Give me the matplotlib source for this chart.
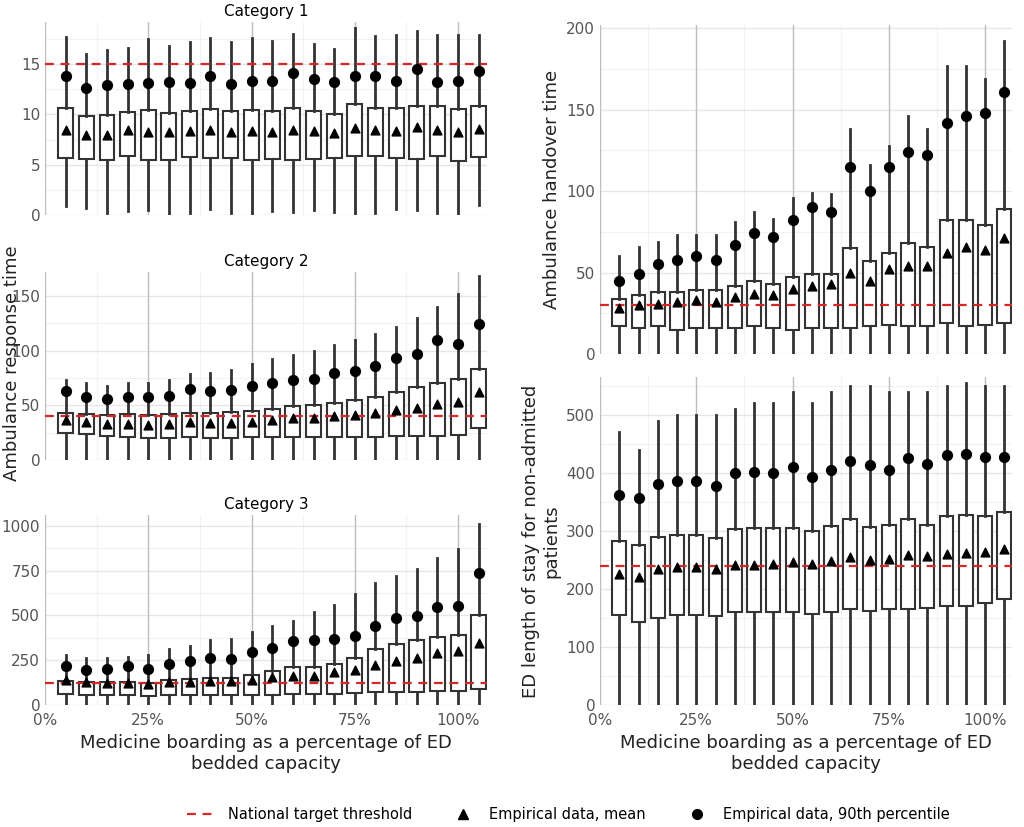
import matplotlib.pyplot as plt
from matplotlib.lines import Line2D

x_pos = [5 * (i + 1) for i in range(21)]

# Category 1
c1_low = [0.9, 0.7, 0.2, 0.4, 0.5, 0.1, 0.2, 0.6, 0.2, 0.1, 0.4, 0.3, 0.5, 0.3, 0.1, 0.2, 0.6, 0.5, 0.2, 0.1, 1.0]
c1_q1 = [5.7, 5.6, 5.5, 5.9, 5.5, 5.5, 5.8, 5.7, 5.7, 5.5, 5.6, 5.5, 5.6, 5.7, 5.9, 5.9, 5.7, 5.6, 5.9, 5.4, 5.8]
c1_q3 = [10.6, 9.8, 9.9, 10.2, 10.4, 10.1, 10.3, 10.5, 10.3, 10.4, 10.3, 10.6, 10.3, 10.0, 11.0, 10.6, 10.6, 10.8, 10.8, 10.5, 10.8]
c1_high = [17.7, 16.0, 16.4, 16.6, 17.5, 16.8, 17.2, 17.6, 17.2, 17.6, 17.3, 18.0, 17.0, 16.5, 18.6, 17.8, 17.9, 18.3, 17.9, 17.9, 17.9]
c1_mean = [8.5, 8.0, 8.0, 8.5, 8.3, 8.3, 8.4, 8.5, 8.3, 8.4, 8.3, 8.5, 8.4, 8.2, 8.7, 8.5, 8.4, 8.8, 8.5, 8.3, 8.6]
c1_p90 = [13.8, 12.6, 12.9, 13.0, 13.1, 13.2, 13.1, 13.8, 13.0, 13.3, 13.3, 14.1, 13.5, 13.2, 13.8, 13.8, 13.3, 14.5, 13.2, 13.3, 14.3]

# Category 2
c2_low = [0] * 21
c2_q1 = [25, 24, 22, 21, 20, 20, 21, 20, 20, 21, 21, 21, 21, 21, 21, 21, 22, 22, 22, 23, 29]
c2_q3 = [43, 42, 41, 42, 41, 42, 43, 43, 44, 45, 47, 49, 50, 52, 55, 58, 62, 67, 70, 74, 83]
c2_high = [73, 70, 68, 70, 70, 73, 79, 80, 82, 88, 92, 96, 100, 105, 110, 115, 122, 130, 140, 152, 168]
c2_mean = [37, 35, 33, 33, 32, 33, 35, 34, 34, 35, 37, 38, 38, 40, 41, 43, 46, 48, 51, 53, 62]
c2_p90 = [63, 58, 56, 58, 58, 59, 65, 63, 64, 68, 70, 73, 74, 80, 81, 86, 93, 97, 110, 106, 124]

# Category 3
c3_low = [0] * 21
c3_q1 = [60, 58, 55, 55, 50, 55, 55, 55, 55, 55, 58, 60, 60, 62, 65, 70, 72, 75, 78, 80, 90]
c3_q3 = [135, 130, 130, 130, 125, 140, 145, 150, 150, 165, 190, 210, 210, 230, 260, 310, 340, 360, 380, 390, 500]
c3_high = [280, 260, 265, 270, 280, 310, 330, 360, 370, 410, 440, 470, 520, 560, 620, 680, 720, 760, 820, 870, 1010]
c3_mean = [140, 130, 125, 125, 115, 130, 130, 135, 135, 140, 155, 160, 160, 185, 195, 225, 245, 260, 290, 300, 345]
c3_p90 = [220, 195, 200, 215, 200, 230, 245, 265, 255, 295, 320, 355, 360, 370, 385, 440, 485, 495, 545, 555, 735]

# Handover
ho_low = [0] * 21
ho_q1 = [17, 16, 17, 15, 16, 16, 16, 17, 16, 15, 16, 16, 16, 17, 18, 17, 17, 19, 17, 18, 19]
ho_q3 = [34, 36, 38, 38, 39, 39, 42, 45, 43, 47, 49, 49, 65, 57, 62, 68, 66, 82, 82, 79, 89]
ho_high = [60, 66, 69, 73, 73, 73, 81, 87, 83, 96, 99, 98, 138, 116, 128, 146, 138, 177, 177, 169, 192]
ho_mean = [28, 30, 31, 32, 33, 32, 35, 37, 36, 40, 42, 43, 50, 45, 52, 54, 54, 62, 66, 64, 71]
ho_p90 = [45, 49, 55, 58, 60, 58, 67, 74, 72, 82, 90, 87, 115, 100, 115, 124, 122, 142, 146, 148, 161]

# ED length of stay
ed_low = [0] * 21
ed_q1 = [155, 143, 150, 155, 155, 153, 160, 160, 160, 160, 157, 160, 165, 162, 165, 165, 167, 170, 170, 175, 182]
ed_q3 = [282, 275, 290, 293, 292, 288, 303, 305, 305, 305, 300, 308, 320, 307, 310, 320, 310, 325, 327, 325, 333]
ed_high = [470, 440, 490, 500, 500, 500, 510, 520, 520, 540, 520, 540, 550, 550, 540, 540, 540, 550, 555, 550, 550]
ed_mean = [225, 220, 235, 238, 237, 235, 242, 242, 243, 246, 243, 248, 255, 250, 252, 258, 257, 260, 262, 263, 268]
ed_p90 = [362, 357, 381, 386, 386, 378, 400, 402, 400, 410, 393, 405, 420, 413, 404, 425, 415, 430, 433, 428, 427]

W, H = 1024, 827
fig = plt.figure(figsize=(W / 100, H / 100), dpi=100)


def ax_px(l, t, r, b):
    return fig.add_axes([l / W, 1 - b / H, (r - l) / W, (b - t) / H])


def panel(ax, low, q1, q3, high, mean, p90, thr, ylim, yticks, minor, title=None, ylabel=None, xlab=False):
    for y in minor:
        ax.axhline(y, color='#f2f2f2', lw=0.8, zorder=0)
    for x in [12.5, 37.5, 62.5, 87.5]:
        ax.axvline(x, color='#f2f2f2', lw=0.8, zorder=0)
    for y in yticks:
        ax.axhline(y, color='#e6e6e6', lw=1.0, zorder=0)
    for x in [0, 25, 50, 75, 100]:
        ax.axvline(x, color='#bdbdbd', lw=1.0, zorder=0)
    stats = [dict(whislo=low[i], q1=q1[i], med=q1[i], q3=q3[i], whishi=high[i])
             for i in range(len(x_pos))]
    ax.bxp(stats, positions=x_pos, widths=3.6, showfliers=False, showcaps=False,
           patch_artist=True,
           boxprops=dict(facecolor='white', edgecolor='#333333', lw=1.5),
           whiskerprops=dict(color='#333333', lw=2),
           medianprops=dict(lw=0), manage_ticks=False)
    ax.axhline(thr, color='#d62728', ls=(0, (4, 3)), lw=1.6, zorder=3)
    ax.scatter(x_pos, mean, marker='^', s=40, color='black', zorder=4)
    ax.scatter(x_pos, p90, marker='o', s=50, color='black', zorder=4)
    ax.set_xlim(0, 107)
    ax.set_ylim(*ylim)
    ax.set_yticks(yticks)
    ax.set_xticks([0, 25, 50, 75, 100])
    if xlab:
        ax.set_xticklabels(['0%', '25%', '50%', '75%', '100%'])
        ax.set_xlabel('Medicine boarding as a percentage of ED\nbedded capacity', fontsize=13, color='#222222')
    else:
        ax.set_xticklabels([])
    ax.tick_params(length=0, labelsize=11, labelcolor='#555555')
    ax.tick_params(axis='x', pad=6)
    for s in ax.spines.values():
        s.set_visible(False)
    if title:
        ax.set_title(title, fontsize=11, pad=4)
    if ylabel:
        ax.set_ylabel(ylabel, fontsize=13, color='#222222')


a1 = ax_px(45, 22, 487, 215)
panel(a1, c1_low, c1_q1, c1_q3, c1_high, c1_mean, c1_p90, 15, (0, 19.2), [0, 5, 10, 15],
      [2.5, 7.5, 12.5, 17.5], title='Category 1')
a2 = ax_px(45, 272, 487, 460)
panel(a2, c2_low, c2_q1, c2_q3, c2_high, c2_mean, c2_p90, 40, (0, 172), [0, 50, 100, 150],
      [25, 75, 125], title='Category 2')
a3 = ax_px(45, 515, 487, 705)
panel(a3, c3_low, c3_q1, c3_q3, c3_high, c3_mean, c3_p90, 120, (0, 1060), [0, 250, 500, 750, 1000],
      [125, 375, 625, 875], title='Category 3', xlab=True)
fig.text(12 / W, 1 - 363 / H, 'Ambulance response time', rotation=90, va='center', ha='center',
         fontsize=13, color='#222222')
a4 = ax_px(600, 25, 1012, 354)
panel(a4, ho_low, ho_q1, ho_q3, ho_high, ho_mean, ho_p90, 30, (0, 202), [0, 50, 100, 150, 200],
      [25, 75, 125, 175], ylabel='Ambulance handover time')
a5 = ax_px(600, 377, 1012, 705)
panel(a5, ed_low, ed_q1, ed_q3, ed_high, ed_mean, ed_p90, 240, (0, 565), [0, 100, 200, 300, 400, 500],
      [50, 150, 250, 350, 450, 550], ylabel='ED length of stay for non-admitted\npatients', xlab=True)

handles = [Line2D([], [], color='#d62728', ls=(0, (4, 3)), lw=1.6),
           Line2D([], [], marker='^', color='black', ls='none', ms=7),
           Line2D([], [], marker='o', color='black', ls='none', ms=7)]
fig.legend(handles, ['National target threshold', 'Empirical data, mean', 'Empirical data, 90th percentile'],
           loc='center', bbox_to_anchor=(0.555, 1 - 815 / H), ncol=3, frameon=False, fontsize=10.5,
           handlelength=2, columnspacing=2.5)

fig.savefig('out.png', dpi=100, facecolor='white')
